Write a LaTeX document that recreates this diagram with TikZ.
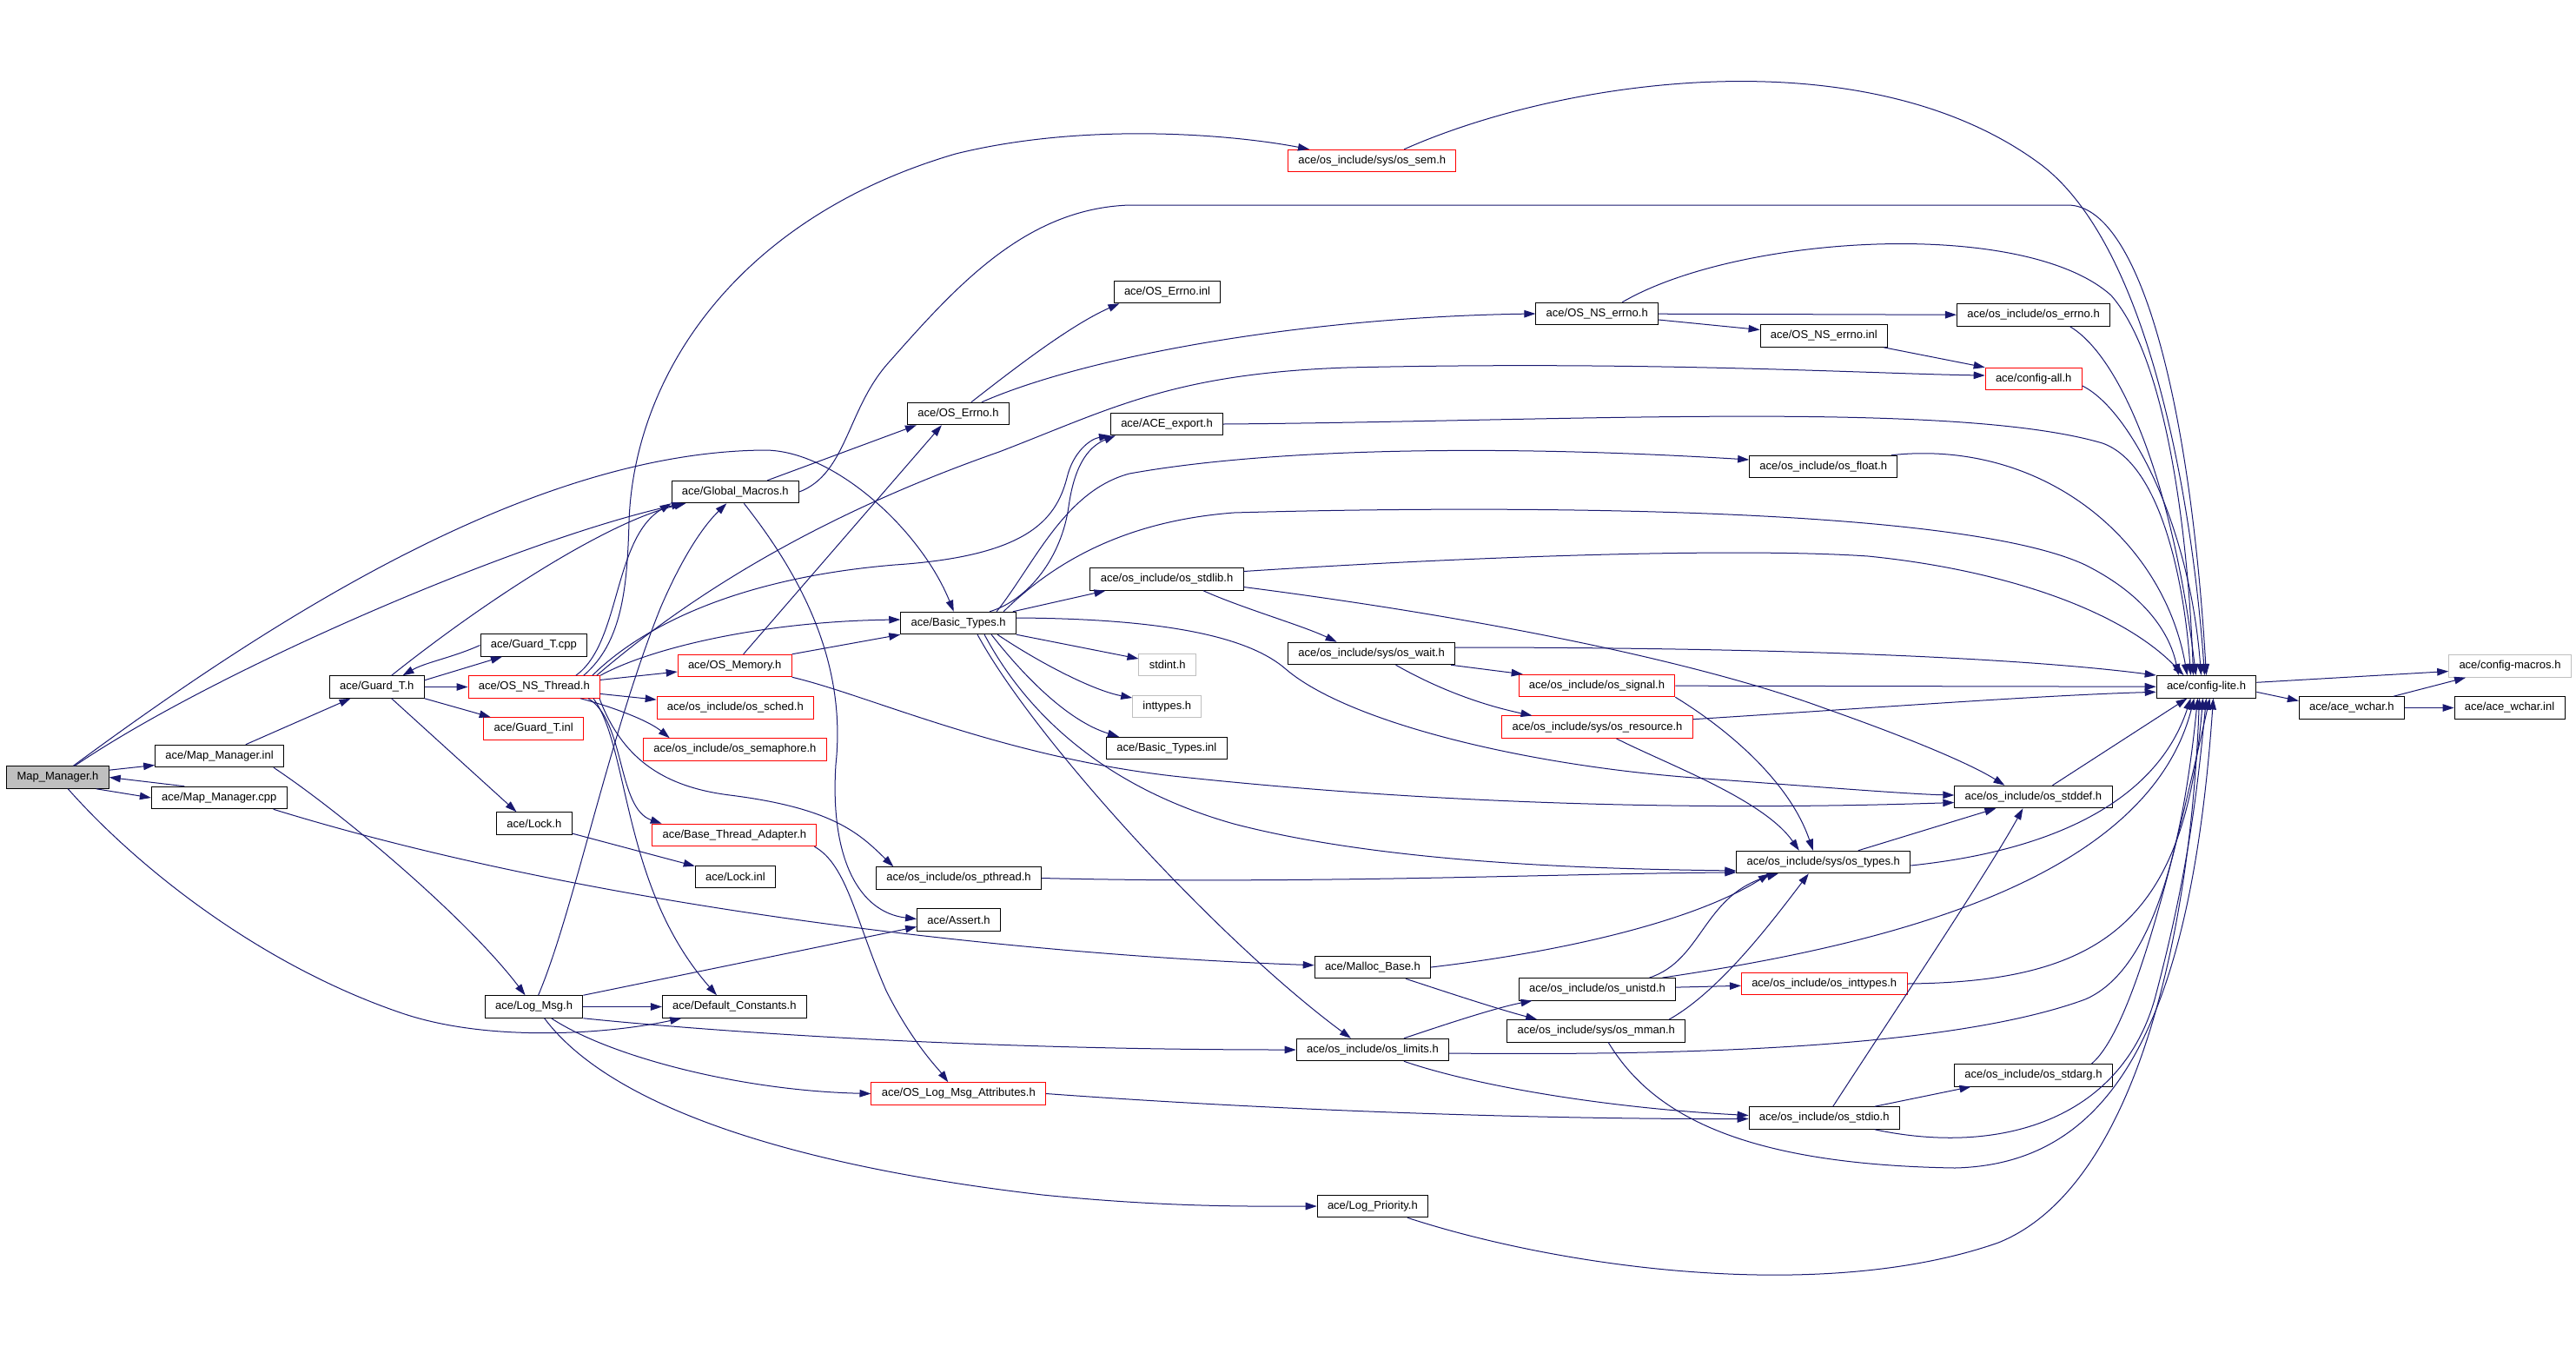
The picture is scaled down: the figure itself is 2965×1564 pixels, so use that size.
\documentclass[tikz,border=0pt]{standalone}
\usepackage{fontspec}
\setmainfont{Liberation Sans}
\usetikzlibrary{arrows.meta}
\definecolor{incblue}{HTML}{191970}
\definecolor{trunc}{HTML}{FF0000}
\definecolor{sysgray}{HTML}{BFBFBF}
\tikzset{
	hdr/.style={draw=black, line width=1pt, rectangle, minimum height=25.5pt, inner xsep=11.8pt, inner ysep=0pt, font=\fontsize{13}{15}\selectfont},
	redhdr/.style={hdr, draw=trunc},
	syshdr/.style={hdr, draw=sysgray},
	focus/.style={hdr, fill=sysgray},
	incl/.style={draw=incblue, line width=1pt, -{Triangle[length=13pt,width=8.5pt]}}
}

\begin{document}
\begin{tikzpicture}[x=1pt, y=-1pt]
		%%%%% START %%%%%
		\fill[white] (0,0) rectangle (2965,1564);
		
		\node[focus] (mm) at (66.5,894.5) {Map\_Manager.h};
		\node[hdr] (mminl) at (252.6,870) {ace/Map\_Manager.inl};
		\node[hdr] (mmcpp) at (252.3,918) {ace/Map\_Manager.cpp};
		\node[hdr] (guard) at (433.7,790.5) {ace/Guard\_T.h};
		\node[hdr] (guardcpp) at (614.3,742.5) {ace/Guard\_T.cpp};
		\node[redhdr] (nsthread) at (614.8,790.5) {ace/OS\_NS\_Thread.h};
		\node[redhdr] (guardinl) at (614.2,838.5) {ace/Guard\_T.inl};
		\node[hdr] (lock) at (614.9,947.5) {ace/Lock.h};
		\node[hdr] (logmsg) at (614.6,1158.5) {ace/Log\_Msg.h};
		
		\node[hdr] (gmacros) at (846.3,566) {ace/Global\_Macros.h};
		\node[redhdr] (osmem) at (845.7,766) {ace/OS\_Memory.h};
		\node[redhdr] (sched) at (846.4,814.5) {ace/os\_include/os\_sched.h};
		\node[redhdr] (semaph) at (845.9,862.5) {ace/os\_include/os\_semaphore.h};
		\node[redhdr] (bta) at (845.4,961) {ace/Base\_Thread\_Adapter.h};
		\node[hdr] (lockinl) at (846.4,1009) {ace/Lock.inl};
		\node[hdr] (defconst) at (845.4,1158.5) {ace/Default\_Constants.h};
		
		\node[hdr] (oserrno) at (1102.9,476) {ace/OS\_Errno.h};
		\node[hdr] (btypes) at (1103.1,717) {ace/Basic\_Types.h};
		\node[hdr] (pthread) at (1103.5,1010.5) {ace/os\_include/os\_pthread.h};
		\node[hdr] (assert) at (1103.5,1058.5) {ace/Assert.h};
		\node[redhdr] (logattr) at (1103.3,1258.5) {ace/OS\_Log\_Msg\_Attributes.h};
		
		\node[hdr] (errnoinl) at (1343.5,336) {ace/OS\_Errno.inl};
		\node[hdr] (export) at (1343,488) {ace/ACE\_export.h};
		\node[hdr] (stdlib) at (1343,666.5) {ace/os\_include/os\_stdlib.h};
		\node[syshdr] (stdint) at (1343.7,765) {stdint.h};
		\node[syshdr] (inttypes) at (1343.3,813) {inttypes.h};
		\node[hdr] (btinl) at (1342.9,861) {ace/Basic\_Types.inl};
		
		\node[redhdr] (ossem) at (1579.2,185) {ace/os\_include/sys/os\_sem.h};
		\node[hdr] (oswait) at (1578.6,752) {ace/os\_include/sys/os\_wait.h};
		\node[hdr] (malloc) at (1579.9,1113) {ace/Malloc\_Base.h};
		\node[hdr] (limits) at (1579.9,1208) {ace/os\_include/os\_limits.h};
		\node[hdr] (logprio) at (1579.9,1388) {ace/Log\_Priority.h};
		
		\node[hdr] (nserrno) at (1838.2,361) {ace/OS\_NS\_errno.h};
		\node[redhdr] (signal) at (1838,789) {ace/os\_include/os\_signal.h};
		\node[redhdr] (resource) at (1838.5,836.7) {ace/os\_include/sys/os\_resource.h};
		\node[hdr] (unistd) at (1838.5,1138.3) {ace/os\_include/os\_unistd.h};
		\node[hdr] (mman) at (1837.2,1186.3) {ace/os\_include/sys/os\_mman.h};
		
		\node[hdr] (nserrnoinl) at (2099.3,386.5) {ace/OS\_NS\_errno.inl};
		\node[hdr] (float) at (2098.8,537) {ace/os\_include/os\_float.h};
		\node[hdr] (types) at (2098.8,992) {ace/os\_include/sys/os\_types.h};
		\node[redhdr] (inttypesh) at (2099.7,1132) {ace/os\_include/os\_inttypes.h};
		\node[hdr] (stdio) at (2099.7,1286.5) {ace/os\_include/os\_stdio.h};
		
		\node[hdr] (errnoh) at (2340.5,362.5) {ace/os\_include/os\_errno.h};
		\node[redhdr] (configall) at (2340.7,436) {ace/config-all.h};
		\node[hdr] (stddef) at (2340.4,917) {ace/os\_include/os\_stddef.h};
		\node[hdr] (stdarg) at (2340.4,1237.3) {ace/os\_include/os\_stdarg.h};
		
		\node[hdr] (configlite) at (2539.5,790.3) {ace/config-lite.h};
		\node[hdr] (wchar) at (2706.9,814.5) {ace/ace\_wchar.h};
		\node[syshdr] (macros) at (2889,766.5) {ace/config-macros.h};
		\node[hdr] (wcharinl) at (2888.5,814.5) {ace/ace\_wchar.inl};
		
		% Map_Manager.h, .inl, .cpp
		\draw[incl] (mm.8) -- (mminl.188);
		\draw[incl] ([xshift=-15pt]mm.south east) -- (mmcpp.west);
		\draw[incl] ([xshift=-40pt]mmcpp.north) -- (mm.east);
		\draw[incl] (mm) .. controls (250,770) and (600,620) .. (gmacros);
		\draw[incl] (mm) .. controls (330,700) and (620,520) .. (880,518) .. controls (960,518) and (1060,610) .. (btypes);
		\draw[incl] (mm) .. controls (160,1000) and (300,1110) .. (460,1165) .. controls (560,1200) and (700,1190) .. (defconst);
		\draw[incl] (mminl) -- (guard);
		\draw[incl] (mminl.-12) .. controls (400,940) and (540,1060) .. (logmsg);
		\draw[incl] (mmcpp.-12) .. controls (700,1050) and (1200,1100) .. (malloc);
		
		% Guard_T.h
		\draw[incl] (guard.8) -- (guardcpp.200);
		\draw[incl] (guardcpp.west) .. controls (520,757) and (490,762) .. (guard.24);
		\draw[incl] (guard) -- (nsthread);
		\draw[incl] (guard.south east) -- (guardinl.165);
		\draw[incl] (guard.-38) -- (lock.147);
		\draw[incl] (guard.38) .. controls (560,690) and (700,600) .. (gmacros);
		\draw[incl] (lock) -- (lockinl);
		
		% OS_NS_Thread.h
		\draw[incl] (nsthread) -- (osmem);
		\draw[incl] (nsthread) -- (sched);
		\draw[incl] (nsthread.-14) .. controls (700,812) and (745,828) .. (semaph.170);
		\draw[incl] (nsthread.-12) .. controls (720,830) and (710,930) .. (bta.171);
		\draw[incl] (nsthread.-11) .. controls (725,860) and (715,1020) .. (defconst.147);
		\draw[incl] (nsthread.-10) .. controls (715,870) and (760,905) .. (840,915) .. controls (960,930) and (990,960) .. (pthread.170);
		\draw[incl] ([xshift=48pt]nsthread.north) .. controls (715,740) and (705,620) .. (gmacros.south west);
		\draw[incl] ([xshift=57pt]nsthread.north) .. controls (715,740) and (722,680) .. (724,600) .. controls (730,430) and (850,250) .. (1100,177) .. controls (1250,140) and (1420,155) .. ([xshift=25pt]ossem.north west);
		\draw[incl] ([xshift=67pt]nsthread.north) .. controls (740,720) and (850,665) .. (1030,650) .. controls (1180,640) and (1215,600) .. (1228,550) .. controls (1235,520) and (1255,505) .. (export.south west);
		\draw[incl] ([xshift=72pt]nsthread.north) .. controls (800,680) and (950,590) .. (1150,520) .. controls (1280,470) and (1350,430) .. (1550,423) .. controls (1900,415) and (2150,430) .. ([yshift=4pt]configall.west);
		\draw[incl] (nsthread.north east) .. controls (750,745) and (880,715) .. ([yshift=4pt]btypes.west);
		
		% Global_Macros.h, Log_Msg.h
		\draw[incl] ([xshift=37pt]gmacros.north) -- ([xshift=-48pt]oserrno.south);
		\draw[incl] (gmacros.east) .. controls (975,545) and (975,470) .. (1023,417) .. controls (1100,330) and (1180,240) .. (1300,236) -- (2380,236) .. controls (2460,236) and (2520,450) .. (configlite.north);
		\draw[incl] ([xshift=10pt]gmacros.south) .. controls (920,660) and (975,760) .. (962,880) .. controls (955,990) and (990,1050) .. ([yshift=1pt]assert.west);
		\draw[incl] ([xshift=5pt]logmsg.north) .. controls (660,1050) and (700,850) .. (760,700) .. controls (790,630) and (815,600) .. ([xshift=-10pt]gmacros.south);
		\draw[incl] (logmsg) -- (defconst);
		\draw[incl] (logmsg.north east) -- ([yshift=-8pt]assert.west);
		\draw[incl] (logmsg.south east) .. controls (800,1185) and (1100,1208) .. (limits.west);
		\draw[incl] ([xshift=20pt]logmsg.south) .. controls (700,1215) and (850,1255) .. (logattr.west);
		\draw[incl] ([xshift=12pt]logmsg.south) .. controls (700,1270) and (900,1340) .. (1200,1375) .. controls (1350,1390) and (1450,1388) .. (logprio.west);
		
		% OS_Memory.h, Base_Thread_Adapter.h, OS_Errno.h
		\draw[incl] ([xshift=10pt]osmem.north) -- ([xshift=-19pt]oserrno.south);
		\draw[incl] (osmem.north east) -- (btypes.south west);
		\draw[incl] (osmem.south east) .. controls (1000,800) and (1150,870) .. (1350,893) .. controls (1600,920) and (1900,935) .. ([yshift=-6.5pt]stddef.west);
		\draw[incl] ([xshift=92pt]bta.south) .. controls (975,995) and (985,1060) .. (1020,1140) .. controls (1050,1200) and (1080,1230) .. ([xshift=-12pt]logattr.north);
		\draw[incl] ([xshift=15pt]oserrno.north) .. controls (1160,430) and (1230,375) .. ([xshift=-55pt]errnoinl.south);
		\draw[incl] ([xshift=27pt]oserrno.north) .. controls (1250,410) and (1500,365) .. (nserrno.west);
		
		% Basic_Types.h
		\draw[incl] ([xshift=36pt]btypes.north) .. controls (1185,690) and (1222,640) .. (1230,583) .. controls (1236,540) and (1250,515) .. ([xshift=6pt]export.south west);
		\draw[incl] ([xshift=-4pt]btypes.north east) -- ([xshift=18pt]stdlib.south west);
		\draw[incl] ([xshift=44pt]btypes.north) .. controls (1190,650) and (1225,565) .. (1300,545) .. controls (1450,518) and (1700,510) .. ([yshift=8pt]float.west);
		\draw[incl] ([xshift=52pt]btypes.north) .. controls (1210,650) and (1290,600) .. (1420,590) .. controls (1700,582) and (2250,580) .. (2400,650) .. controls (2480,690) and (2500,740) .. ([xshift=-32pt]configlite.north);
		\draw[incl] ([yshift=6pt]btypes.east) .. controls (1350,712) and (1440,735) .. (1480,770) .. controls (1550,830) and (1750,880) .. (1950,895) .. controls (2100,906) and (2200,914) .. ([yshift=2pt]stddef.west);
		\draw[incl] (btypes.south east) -- ([yshift=7pt]stdint.west);
		\draw[incl] ([xshift=45pt]btypes.south) .. controls (1200,765) and (1260,795) .. ([yshift=10pt]inttypes.west);
		\draw[incl] ([xshift=38pt]btypes.south) .. controls (1180,780) and (1230,830) .. ([xshift=-55pt]btinl.north);
		\draw[incl] ([xshift=30pt]btypes.south) .. controls (1170,800) and (1250,900) .. (1420,948) .. controls (1600,995) and (1850,1000) .. ([yshift=-10pt]types.west);
		\draw[incl] ([xshift=22pt]btypes.south) .. controls (1190,850) and (1400,1080) .. ([xshift=-25pt]limits.north);
		\draw[incl] (pthread.east) .. controls (1500,1018) and (1800,1005) .. ([yshift=-12pt]types.west);
		
		% os_stdlib.h, os_wait.h, os_signal.h, os_resource.h
		\draw[incl] ([xshift=42pt]stdlib.south) .. controls (1430,700) and (1500,720) .. ([xshift=-40pt]oswait.north);
		\draw[incl] ([yshift=-9pt]stdlib.east) .. controls (1700,710) and (1950,760) .. (2100,815) .. controls (2200,850) and (2270,880) .. ([xshift=-33pt]stddef.north);
		\draw[incl] ([yshift=9pt]stdlib.east) .. controls (1700,640) and (2000,630) .. (2150,640) .. controls (2300,655) and (2440,700) .. ([xshift=-26pt]configlite.north);
		\draw[incl] ([xshift=-5pt]oswait.south east) -- ([xshift=5pt]signal.north west);
		\draw[incl] ([xshift=28pt]oswait.south) .. controls (1650,790) and (1700,810) .. ([xshift=-75pt]resource.north);
		\draw[incl] ([yshift=7pt]oswait.east) .. controls (2100,745) and (2350,760) .. (configlite.north west);
		\draw[incl] (signal) -- (configlite);
		\draw[incl] (signal.south east) .. controls (1990,840) and (2060,900) .. ([xshift=-12pt]types.north);
		\draw[incl] ([xshift=22pt]resource.south) .. controls (1920,880) and (2030,920) .. ([xshift=-28pt]types.north);
		\draw[incl] ([yshift=9pt]resource.east) .. controls (2150,815) and (2350,800) .. ([yshift=-6pt]configlite.west);
		
		% Malloc_Base.h, os_limits.h, Log_Priority.h
		\draw[incl] (malloc.east) .. controls (1800,1095) and (1950,1060) .. ([xshift=-62pt]types.south);
		\draw[incl] ([xshift=38pt]malloc.south) .. controls (1660,1140) and (1720,1160) .. ([xshift=-68pt]mman.north);
		\draw[incl] ([xshift=36pt]limits.north) .. controls (1660,1180) and (1720,1160) .. ([xshift=-75pt]unistd.south);
		\draw[incl] ([xshift=36pt]limits.south) .. controls (1700,1250) and (1850,1275) .. ([yshift=3pt]stdio.west);
		\draw[incl] ([yshift=-4pt]limits.east) .. controls (1950,1215) and (2250,1205) .. (2400,1150) .. controls (2470,1120) and (2510,1000) .. ([xshift=-10pt]configlite.south);
		\draw[incl] ([xshift=40pt]logprio.south) .. controls (1800,1460) and (2100,1500) .. (2300,1430) .. controls (2450,1370) and (2520,1100) .. ([xshift=-8pt]configlite.south);
		\draw[incl] (logattr.east) .. controls (1500,1280) and (1800,1288) .. ([yshift=-1pt]stdio.west);
		
		% OS_NS_errno.h and the top row
		\draw[incl] (nserrno) -- (errnoh);
		\draw[incl] ([yshift=-7pt]nserrno.east) -- ([yshift=7pt]nserrnoinl.west);
		\draw[incl] ([xshift=29pt]nserrno.north) .. controls (2000,270) and (2330,250) .. (2430,340) .. controls (2500,420) and (2520,650) .. ([xshift=-15pt]configlite.north);
		\draw[incl] ([xshift=-5pt]nserrnoinl.south east) -- (configall.north west);
		\draw[incl] ([xshift=42pt]errnoh.south) .. controls (2440,410) and (2500,550) .. ([xshift=-12pt]configlite.north);
		\draw[incl] ([yshift=-8pt]configall.east) .. controls (2450,470) and (2520,600) .. ([xshift=-6pt]configlite.north);
		\draw[incl] ([xshift=37pt]ossem.north) .. controls (1800,90) and (2150,40) .. (2350,190) .. controls (2480,290) and (2525,600) .. ([xshift=-2pt]configlite.north);
		\draw[incl] (export.east) .. controls (1800,485) and (2250,460) .. (2420,510) .. controls (2490,535) and (2515,680) .. ([xshift=-18pt]configlite.north);
		\draw[incl] ([xshift=78pt]float.north) .. controls (2350,505) and (2490,620) .. ([xshift=-22pt]configlite.north);
		
		% os_unistd.h, os_types.h, os_stdio.h and the rest
		\draw[incl] (unistd) -- (inttypesh);
		\draw[incl] ([xshift=60pt]unistd.north) .. controls (1960,1105) and (1960,1030) .. ([xshift=-52pt]types.south);
		\draw[incl] ([xshift=75pt]unistd.north) .. controls (2150,1090) and (2470,1020) .. ([xshift=-14pt]configlite.south);
		\draw[incl] (inttypesh.east) .. controls (2420,1130) and (2515,1060) .. ([xshift=-4pt]configlite.south);
		\draw[incl] ([xshift=84pt]mman.north) .. controls (1980,1140) and (2040,1060) .. ([xshift=-17pt]types.south);
		\draw[incl] ([xshift=14pt]mman.south) .. controls (1900,1280) and (2000,1340) .. (2250,1344) .. controls (2420,1340) and (2520,1200) .. ([xshift=8pt]configlite.south);
		\draw[incl] ([xshift=40pt]types.north) -- ([xshift=-43pt]stddef.south);
		\draw[incl] ([yshift=-4pt]types.east) .. controls (2400,975) and (2490,900) .. ([xshift=-18pt]configlite.south);
		\draw[incl] ([xshift=22pt]stddef.north) -- ([xshift=-22pt]configlite.south);
		\draw[incl] ([xshift=10pt]stdio.north) .. controls (2190,1150) and (2290,1000) .. ([xshift=-12pt]stddef.south);
		\draw[incl] ([xshift=58pt]stdio.north) -- ([xshift=-72pt]stdarg.south);
		\draw[incl] ([xshift=58pt]stdio.south) .. controls (2300,1330) and (2440,1290) .. (2480,1150) .. controls (2520,1000) and (2530,900) .. (configlite.south);
		\draw[incl] ([xshift=67pt]stdarg.north) .. controls (2460,1180) and (2510,950) .. ([xshift=4pt]configlite.south);
		
		% config-lite.h, ace_wchar.h
		\draw[incl] ([yshift=5pt]configlite.east) -- ([yshift=-6pt]macros.west);
		\draw[incl] ([yshift=-6pt]configlite.east) -- ([yshift=8pt]wchar.west);
		\draw[incl] ([xshift=48pt]wchar.north) -- ([xshift=-51pt]macros.south);
		\draw[incl] (wchar) -- (wcharinl);
		%%%%% END %%%%%
\end{tikzpicture}
\end{document}
